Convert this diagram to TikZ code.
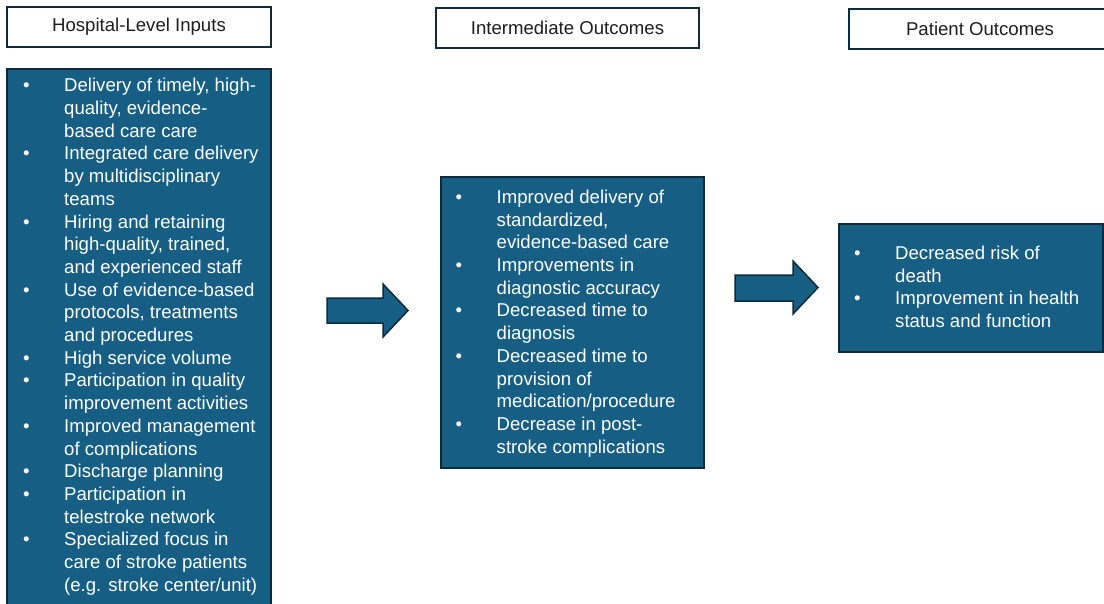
\documentclass[tikz,border=0pt]{standalone}
\usepackage{fontspec}
\setmainfont{Liberation Sans}
\usepackage{xcolor}
\usepackage{tikz}

\definecolor{boxblue}{RGB}{22,94,131}
\definecolor{boxedge}{RGB}{14,42,59}
\definecolor{hdrtext}{RGB}{30,30,30}

% bullet rows: bullet column, then the text lines
\newcommand{\itemrows}[1]{{\fontsize{18.6}{22.7}\selectfont
  \begin{tabular}{@{}p{41pt}@{}l@{}}#1\end{tabular}}}

\begin{document}
\begin{tikzpicture}[x=1pt,y=1pt,yscale=-1,xscale=1,
  hdrbox/.style={draw=boxedge,line width=2pt,fill=white,text=hdrtext,inner sep=0pt,
    minimum height=40pt,font=\fontsize{18.6}{22}\selectfont},
  bluebox/.style={draw=boxedge,line width=2pt,fill=boxblue,inner sep=0pt},
  itemtext/.style={anchor=north west,inner sep=0pt,text=white},
  blockarrow/.style={draw=boxedge,line width=1.5pt,fill=boxblue,line join=miter}]
\useasboundingbox (0,0) rectangle (1104,603);

% Header boxes
\node [hdrbox,minimum width=264pt] (hdrInputs) at (139,27) {Hospital-Level Inputs};
\node [hdrbox,minimum width=263pt] (hdrInter) at (567.5,28) {Intermediate Outcomes};
\node [hdrbox,minimum width=262pt] (hdrPatient) at (980,28.5) {Patient Outcomes};

% Blue boxes
\node [bluebox,minimum width=264pt,minimum height=536pt] (bxInputs) at (139,337) {};
\node [bluebox,minimum width=263pt,minimum height=291pt] (bxInter) at (572.5,322.5) {};
\node [bluebox,minimum width=264pt,minimum height=128pt] (bxPatient) at (971,288) {};

% Block arrows
\draw [blockarrow] (327,298) -- (383,298) -- (383,284) -- (408,310.5) -- (383,337) -- (383,323) -- (327,323) -- cycle ;
\draw [blockarrow] (735,275) -- (793,275) -- (793,261) -- (818,287.5) -- (793,314) -- (793,301) -- (735,301) -- cycle ;

% Item lists
\node [itemtext] (lsInputs) at (23,75.8) {\itemrows{%
\textbullet & Delivery of timely, high-\\
 & quality, evidence-\\
 & based care care\\
\textbullet & Integrated care delivery\\
 & by multidisciplinary\\
 & teams\\
\textbullet & Hiring and retaining\\
 & high-quality, trained,\\
 & and experienced staff\\
\textbullet & Use of evidence-based\\
 & protocols, treatments\\
 & and procedures\\
\textbullet & High service volume\\
\textbullet & Participation in quality\\
 & improvement activities\\
\textbullet & Improved management\\
 & of complications\\
\textbullet & Discharge planning\\
\textbullet & Participation in\\
 & telestroke network\\
\textbullet & Specialized focus in\\
 & care of stroke patients\\
 & (e.g. stroke center/unit)}};
\node [itemtext] (lsInter) at (455.5,187.4) {\itemrows{%
\textbullet & Improved delivery of\\
 & standardized,\\
 & evidence-based care\\
\textbullet & Improvements in\\
 & diagnostic accuracy\\
\textbullet & Decreased time to\\
 & diagnosis\\
\textbullet & Decreased time to\\
 & provision of\\
 & medication/procedure\\
\textbullet & Decrease in post-\\
 & stroke complications}};
\node [itemtext] (lsPatient) at (854,243.4) {\itemrows{%
\textbullet & Decreased risk of\\
 & death\\
\textbullet & Improvement in health\\
 & status and function}};

\end{tikzpicture}
\end{document}
